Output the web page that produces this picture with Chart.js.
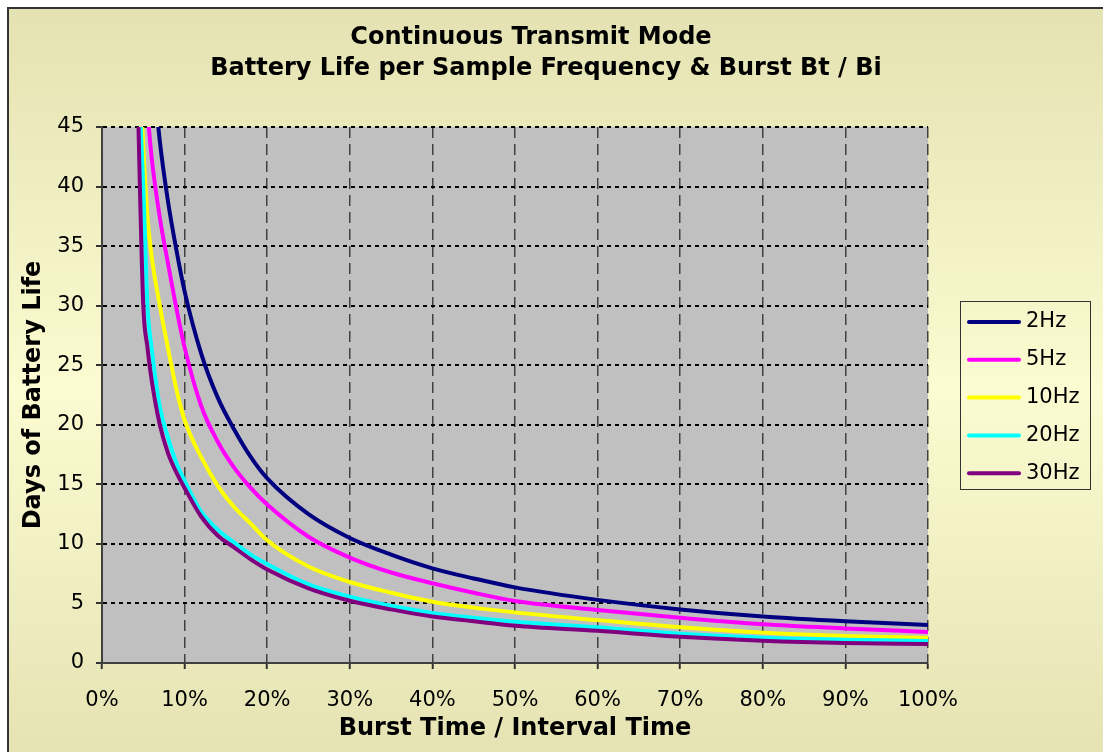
<!DOCTYPE html>
<html>
<head>
<meta charset="utf-8">
<script src="https://cdn.jsdelivr.net/npm/chart.js@4.4.1/dist/chart.umd.min.js"></script>
<style>
  html, body { margin: 0; padding: 0; background: #ffffff; }
  canvas { display: block; }
</style>
</head>
<body>
<canvas id="c" width="1103" height="752"></canvas>
<script>
// ---- data ----
const titleLines = ['Continuous Transmit Mode', 'Battery Life per Sample Frequency & Burst Bt / Bi'];
const xAxisTitle = 'Burst Time / Interval Time';
const yAxisTitle = 'Days of Battery Life';
const seriesLabels = ['2Hz', '5Hz', '10Hz', '20Hz', '30Hz'];

// Burst time / interval time, in percent
const burstPct = [4, 4.5, 5, 5.5, 6, 7, 8, 9, 10, 12, 14, 16, 18, 20, 25, 30, 35, 40, 45, 50, 60, 70, 80, 90, 100];

// Days of battery life per series
const days2Hz  = [null, null, null, null, 51, 43.8, 38.7, 34.7, 31.2, 26.0, 22.3, 19.6, 17.3, 15.5, 12.5, 10.5, 9.1, 7.95, 7.1, 6.35, 5.3, 4.5, 3.9, 3.5, 3.2];
const days5Hz  = [null, null, 52, 46.5, 42.5, 37.4, 33.5, 29.8, 26.5, 21.6, 18.6, 16.4, 14.7, 13.3, 10.6, 8.85, 7.6, 6.7, 5.9, 5.2, 4.45, 3.8, 3.25, 2.9, 2.6];
const days10Hz = [null, 51, 43.3, 37.5, 34.2, 30.0, 26.4, 23.0, 20.4, 17.3, 14.9, 13.1, 11.7, 10.3, 8.1, 6.8, 5.9, 5.15, 4.65, 4.25, 3.6, 3.0, 2.55, 2.27, 2.13];
const days20Hz = [56, 48, 40, 30, 26.5, 21.5, 18.9, 16.8, 15.3, 12.7, 11.2, 10.1, 9.1, 8.3, 6.6, 5.57, 4.8, 4.2, 3.8, 3.47, 3.0, 2.45, 2.13, 1.96, 1.85];
const days30Hz = [58, 42.5, 30, 26.5, 23.8, 20.0, 17.6, 16.0, 14.7, 12.3, 10.7, 9.7, 8.7, 7.85, 6.27, 5.23, 4.5, 3.9, 3.5, 3.13, 2.7, 2.2, 1.87, 1.68, 1.6];

const seriesValues = [days2Hz, days5Hz, days10Hz, days20Hz, days30Hz];

// ---- styles ----
const seriesColors = ['#000080', '#FF00FF', '#FFFF00', '#00FFFF', '#800080'];
const FONT = '"DejaVu Sans", "Liberation Sans", Arial, sans-serif';

const datasets = seriesLabels.map((label, i) => ({
  label,
  data: burstPct.map((x, j) => ({ x, y: seriesValues[i][j] })),
  borderColor: seriesColors[i],
  backgroundColor: seriesColors[i],
  borderWidth: 4,
  pointRadius: 0,
  cubicInterpolationMode: 'monotone',
  fill: false,
  order: seriesLabels.length - i   // later series drawn on top, as in the reference
}));

const decorPlugin = {
  id: 'decor',
  beforeDraw(chart) {
    const { ctx, width, height, chartArea: a } = chart;
    ctx.save();
    ctx.fillStyle = '#ffffff';
    ctx.fillRect(0, 0, width, height);
    const g = ctx.createLinearGradient(0, 8, 0, 770);
    g.addColorStop(0, '#E4E2B2');
    g.addColorStop(0.5, '#FCFBD1');
    g.addColorStop(1, '#E4E2B2');
    ctx.fillStyle = g;
    ctx.fillRect(8, 8, width, height);
    ctx.strokeStyle = '#333333';
    ctx.lineWidth = 2;
    ctx.strokeRect(8, 8, width + 20, height + 20);
    // plot area
    ctx.fillStyle = '#C0C0C0';
    ctx.fillRect(a.left, a.top, a.right - a.left, a.bottom - a.top);
    // title
    ctx.fillStyle = '#000000';
    ctx.font = 'bold 24px ' + FONT;
    ctx.textAlign = 'center';
    ctx.textBaseline = 'middle';
    ctx.fillText(titleLines[0], 531, 38);
    ctx.fillText(titleLines[1], 546, 69);
    ctx.restore();
  },
  afterDraw(chart) {
    const { ctx } = chart;
    ctx.save();
    // legend box
    const bx = 960.5, by = 301.5, bw = 130, bh = 188;
    ctx.strokeStyle = '#333333';
    ctx.lineWidth = 1;
    ctx.strokeRect(bx, by, bw, bh);
    ctx.font = '21px ' + FONT;
    ctx.textAlign = 'left';
    ctx.textBaseline = 'middle';
    chart.data.datasets.forEach((ds, i) => {
      const y = 322 + i * 37.8;
      ctx.strokeStyle = ds.borderColor;
      ctx.lineWidth = 4;
      ctx.lineCap = 'round';
      ctx.beginPath();
      ctx.moveTo(969, y);
      ctx.lineTo(1019, y);
      ctx.stroke();
      ctx.fillStyle = '#000000';
      ctx.fillText(ds.label, 1026, y);
    });
    ctx.restore();
  }
};

new Chart(document.getElementById('c'), {
  type: 'line',
  data: { datasets },
  plugins: [decorPlugin],
  options: {
    responsive: false,
    animation: false,
    events: [],
    layout: { padding: { top: 127, right: 175, bottom: 0, left: 0 } },
    plugins: {
      legend: { display: false },
      tooltip: { enabled: false },
      title: { display: false }
    },
    scales: {
      x: {
        type: 'linear',
        min: 0, max: 100,
        afterFit(scale) { scale.height = 89; },
        ticks: {
          stepSize: 10,
          color: '#000000',
          font: { family: FONT, size: 21 },
          padding: 19,
          maxRotation: 0,
          callback: v => v + '%'
        },
        grid: {
          color: '#404040',
          lineWidth: 1.5,
          drawTicks: true,
          tickLength: 6,
          tickColor: '#333333',
          tickWidth: 2,
          tickBorderDash: []
        },
        border: { display: true, color: '#404040', width: 2, dash: [11, 6] },
        title: {
          display: true,
          text: xAxisTitle,
          color: '#000000',
          font: { family: FONT, size: 24, weight: 'bold' },
          padding: { top: 0, bottom: 9 }
        }
      },
      y: {
        type: 'linear',
        min: 0, max: 45,
        afterFit(scale) { scale.width = 102; },
        ticks: {
          stepSize: 5,
          color: '#000000',
          font: { family: FONT, size: 21 },
          padding: 12
        },
        grid: {
          color: '#000000',
          lineWidth: 2,
          drawTicks: true,
          tickLength: 6,
          tickColor: '#333333',
          tickWidth: 2,
          tickBorderDash: []
        },
        border: { display: true, color: '#404040', width: 2, dash: [4, 4] },
        title: {
          display: true,
          text: yAxisTitle,
          color: '#000000',
          font: { family: FONT, size: 24, weight: 'bold' },
          padding: { top: 19, bottom: 0 }
        }
      }
    }
  }
});
</script>
</body>
</html>
